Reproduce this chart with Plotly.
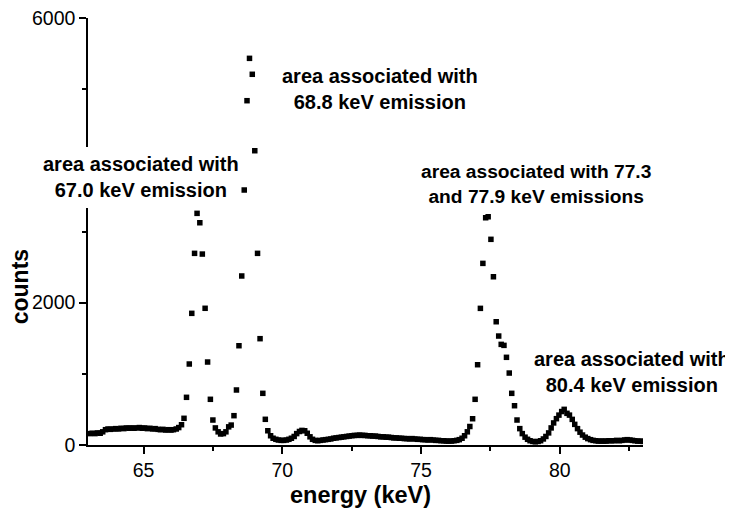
import plotly.graph_objects as go

energy_kev = [
    63.06, 63.15, 63.25, 63.34, 63.44, 63.53, 63.63, 63.72, 63.81, 63.91,
    64.00, 64.10, 64.19, 64.29, 64.38, 64.48, 64.57, 64.66, 64.76, 64.85,
    64.95, 65.04, 65.14, 65.23, 65.33, 65.42, 65.52, 65.61, 65.70, 65.80,
    65.89, 65.99, 66.08, 66.18, 66.27, 66.37, 66.46, 66.55, 66.65, 66.74,
    66.84, 66.93, 67.03, 67.12, 67.22, 67.31, 67.41, 67.50, 67.59, 67.69,
    67.78, 67.88, 67.97, 68.07, 68.16, 68.26, 68.35, 68.44, 68.54, 68.63,
    68.73, 68.82, 68.92, 69.01, 69.11, 69.20, 69.30, 69.39, 69.48, 69.58,
    69.67, 69.77, 69.86, 69.96, 70.05, 70.15, 70.24, 70.33, 70.43, 70.52,
    70.62, 70.71, 70.81, 70.90, 71.00, 71.09, 71.19, 71.28, 71.37, 71.47,
    71.56, 71.66, 71.75, 71.85, 71.94, 72.04, 72.13, 72.22, 72.32, 72.41,
    72.51, 72.60, 72.70, 72.79, 72.89, 72.98, 73.08, 73.17, 73.26, 73.36,
    73.45, 73.55, 73.64, 73.74, 73.83, 73.93, 74.02, 74.11, 74.21, 74.30,
    74.40, 74.49, 74.59, 74.68, 74.78, 74.87, 74.97, 75.06, 75.15, 75.25,
    75.34, 75.44, 75.53, 75.63, 75.72, 75.82, 75.91, 76.00, 76.10, 76.19,
    76.29, 76.38, 76.48, 76.57, 76.67, 76.76, 76.86, 76.95, 77.04, 77.14,
    77.23, 77.33, 77.42, 77.52, 77.61, 77.71, 77.80, 77.89, 77.99, 78.08,
    78.18, 78.27, 78.37, 78.46, 78.56, 78.65, 78.75, 78.84, 78.93, 79.03,
    79.12, 79.22, 79.31, 79.41, 79.50, 79.60, 79.69, 79.78, 79.88, 79.97,
    80.07, 80.16, 80.26, 80.35, 80.45, 80.54, 80.64, 80.73, 80.82, 80.92,
    81.01, 81.11, 81.20, 81.30, 81.39, 81.49, 81.58, 81.67, 81.77, 81.86,
    81.96, 82.05, 82.15, 82.24, 82.34, 82.43, 82.53, 82.62, 82.71, 82.81,
    82.90, 83.00,
]

counts = [
    160, 165, 160, 170, 165, 185, 215, 225, 220, 225,
    230, 225, 235, 230, 240, 235, 240, 235, 240, 245,
    235, 240, 230, 235, 225, 230, 220, 215, 220, 210,
    215, 210, 215, 225, 245, 285, 375, 670, 1138, 1850,
    2693, 3255, 3123, 2683, 1921, 1166, 642, 351, 240, 185,
    155, 160, 185, 255, 280, 412, 773, 1395, 2375, 3583,
    4838, 5433, 5209, 4135, 2693, 1494, 726, 361, 200, 130,
    95, 80, 70, 65, 65, 70, 80, 95, 120, 160,
    190, 205, 200, 165, 115, 80, 65, 60, 65, 70,
    75, 80, 85, 95, 100, 105, 110, 115, 120, 125,
    130, 135, 135, 140, 135, 135, 130, 130, 125, 125,
    120, 115, 115, 110, 110, 105, 100, 100, 95, 95,
    90, 90, 85, 90, 85, 80, 80, 75, 75, 70,
    75, 70, 65, 65, 60, 60, 55, 55, 55, 60,
    65, 75, 95, 130, 185, 260, 369, 642, 1128, 1920,
    2552, 3193, 3207, 2890, 2364, 1732, 1531, 1414, 1400, 1232,
    1011, 726, 552, 351, 230, 160, 110, 80, 60, 50,
    45, 50, 60, 85, 120, 170, 240, 310, 370, 420,
    470, 501, 445, 420, 360, 290, 230, 180, 140, 110,
    90, 75, 65, 60, 55, 55, 55, 55, 60, 60,
    60, 65, 60, 65, 70, 75, 70, 65, 60, 55,
    55, 50,
]

y_tick_vals = [0, 2000, 4000, 6000]
y_tick_text = ["0", "2000", "", "6000"]   # 4000 is hidden behind a label in the original
x_tick_vals = [65, 70, 75, 80]
x_tick_text = ["65", "70", "75", "80"]

label_texts = [
    "area associated with<br>67.0 keV emission",
    "area associated with<br>68.8 keV emission",
    "area associated with 77.3<br>and 77.9 keV emissions",
    "area associated with<br>80.4 keV emission",
]
label_x = [64.90, 73.51, 79.16, 82.60]
label_y = [3759, 5002, 3667, 1026]

x_title = "energy (keV)"
y_title = "counts"

FONT = "Liberation Sans, Arial, Helvetica, sans-serif"

fig = go.Figure()
fig.add_trace(go.Scatter(
    x=energy_kev, y=counts, mode="markers",
    marker=dict(symbol="square", size=5.5, color="black", line=dict(width=0)),
    showlegend=False,
))

label_sizes = [20, 20, 19.2, 20]
label_bg = ["white", "rgba(0,0,0,0)", "rgba(0,0,0,0)", "rgba(0,0,0,0)"]
for t, ax_, ay_, sz, bg in zip(label_texts, label_x, label_y, label_sizes, label_bg):
    fig.add_annotation(
        x=ax_, y=ay_, xref="x", yref="y", text="<b>" + t + "</b>",
        showarrow=False, font=dict(family=FONT, size=sz, color="black"),
        bgcolor=bg, borderpad=1, align="center",
    )

# white patch hiding the y axis line behind the first label (as in the original)
fig.add_shape(type="rect", xref="paper", yref="paper",
              x0=-0.02, x1=0.03, y0=0.555, y1=0.698,
              fillcolor="white", line=dict(width=0), layer="above")

# axis titles placed as in the original
fig.add_annotation(
    x=-0.122, y=0.37, xref="paper", yref="paper", text="<b>" + y_title + "</b>",
    textangle=-90, showarrow=False, font=dict(family=FONT, size=23, color="black"),
    xanchor="center", yanchor="middle",
)
fig.add_annotation(
    x=0.491, y=-0.117, xref="paper", yref="paper", text="<b>" + x_title + "</b>",
    showarrow=False, font=dict(family=FONT, size=23.5, color="black"),
    xanchor="center", yanchor="middle",
)

axis_common = dict(
    showline=True, linecolor="black", linewidth=1.5,
    ticks="outside", ticklen=7, tickwidth=1.5, tickcolor="black",
    showgrid=False, zeroline=False, automargin=False,
    ticklabeloverflow="allow",
    tickfont=dict(family=FONT, size=19.5, color="black"),
)

fig.update_layout(
    template="none",
    width=725, height=504,
    margin=dict(l=80, r=90, t=10, b=67, pad=0),
    paper_bgcolor="white", plot_bgcolor="white",
    font=dict(family=FONT, color="black"),
    xaxis=dict(
        range=[63, 83], tickmode="array", tickvals=x_tick_vals, ticktext=x_tick_text,
        minor=dict(ticks="outside", tick0=62.5, dtick=2.5, ticklen=4,
                   tickwidth=1.5, tickcolor="black", showgrid=False),
        **axis_common,
    ),
    yaxis=dict(
        range=[0, 6000], tickmode="array", tickvals=y_tick_vals, ticktext=y_tick_text,
        minor=dict(ticks="outside", tick0=0, dtick=1000, ticklen=4,
                   tickwidth=1.5, tickcolor="black", showgrid=False),
        **axis_common,
    ),
)

fig.write_html("out.html")
